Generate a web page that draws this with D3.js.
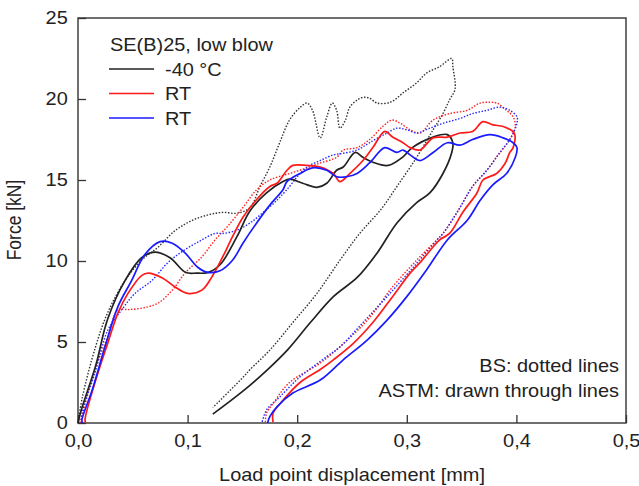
<!DOCTYPE html>
<html>
<head>
    <meta charset="utf-8">
    <title>SE(B)25 low blow - force vs displacement</title>
    <script src="https://d3js.org/d3.v7.min.js"></script>
    <style>
        body { margin: 0; background: #fff; }
        svg text { font-family: "Liberation Sans", Arial, sans-serif; fill: #222; }
    </style>
</head>
<body>
    <div id="chart"></div>

    <script type="text/javascript">
        // [displacement mm, force kN]
        var astmCold = [[0,0],[0.003,0.8],[0.016,3.5],[0.027,6.4],[0.043,8.8],[0.058,10.2],[0.070,10.55],[0.084,10.2],[0.098,9.3],
            [0.108,9.25],[0.119,9.3],[0.130,9.8],[0.145,11.5],[0.157,13.1],[0.172,14.2],[0.187,14.9],[0.193,15.05],[0.205,14.8],
            [0.218,14.55],[0.227,14.8],[0.236,15.6],[0.242,15.8],[0.253,16.7],[0.260,16.4],[0.269,16.1],[0.283,15.9],[0.296,16.4],
            [0.305,17.0],[0.324,17.65],[0.337,17.8],[0.342,17.3],[0.341,16.7],[0.333,15.4],[0.321,14.2],[0.309,13.6],[0.291,12.35],
            [0.273,10.5],[0.255,9.0],[0.233,7.8],[0.212,6.2],[0.191,4.5],[0.173,3.3],[0.151,2.0],[0.123,0.55]];

        var bsCold = [[0,0],[0.004,1.6],[0.016,4.7],[0.027,6.8],[0.043,8.8],[0.058,10.05],[0.073,10.85],[0.089,11.9],[0.104,12.5],
            [0.119,12.85],[0.132,13.0],[0.145,12.95],[0.157,13.3],[0.166,14.6],[0.175,15.8],[0.184,17.3],[0.193,18.7],[0.203,19.5],
            [0.209,19.75],[0.214,19.3],[0.221,17.6],[0.227,18.9],[0.232,19.75],[0.236,19.3],[0.239,18.2],[0.244,18.7],[0.248,19.5],
            [0.255,19.95],[0.260,20.1],[0.266,20.05],[0.273,19.75],[0.285,19.8],[0.297,20.4],[0.309,21.0],[0.318,21.6],[0.330,22.0],
            [0.341,22.5],[0.342,22.0],[0.344,20.6],[0.339,19.95],[0.333,19.1],[0.324,18.1],[0.309,16.4],[0.291,14.6],[0.276,13.15],
            [0.257,11.7],[0.239,10.05],[0.218,8.0],[0.196,6.2],[0.175,4.5],[0.157,3.3],[0.151,2.85],[0.123,0.95]];

        var astmRT1 = [[0.007,0],[0.0064,0.2],[0.0155,2.5],[0.027,4.9],[0.0365,6.8],[0.0456,8.0],[0.058,9.1],[0.064,9.25],[0.077,8.95],
            [0.0885,8.4],[0.100,8.0],[0.113,8.2],[0.122,9.0],[0.132,10.25],[0.141,11.5],[0.1505,12.7],[0.163,13.8],[0.175,14.6],
            [0.1815,14.8],[0.1907,15.6],[0.196,15.9],[0.209,15.9],[0.221,15.8],[0.233,15.4],[0.239,14.9],[0.248,15.4],[0.260,16.2],
            [0.269,17.0],[0.280,18.0],[0.287,17.65],[0.2965,17.3],[0.303,17.0],[0.312,16.85],[0.324,17.6],[0.337,17.65],[0.3485,17.9],
            [0.360,18.0],[0.3695,18.6],[0.3785,18.4],[0.388,18.3],[0.398,17.9],[0.397,17.0],[0.394,16.7],[0.3895,16.0],[0.382,15.4],
            [0.3695,15.0],[0.364,14.2],[0.351,13.0],[0.339,11.7],[0.330,11.3],[0.312,9.9],[0.303,9.25],[0.287,7.8],[0.269,6.2],
            [0.251,4.9],[0.233,3.9],[0.221,3.3],[0.2026,2.5],[0.187,1.4],[0.178,0.6],[0.178,0.05]];

        var bsRT1 = [[0.002,0],[0.0155,3.3],[0.027,5.3],[0.0365,7.0],[0.0456,7.0],[0.059,7.1],[0.073,7.4],[0.086,8.2],[0.0976,9.25],
            [0.113,10.25],[0.125,11.3],[0.136,12.1],[0.1505,13.3],[0.163,14.4],[0.175,15.0],[0.193,15.4],[0.209,15.75],[0.221,16.05],
            [0.236,16.4],[0.242,16.85],[0.2546,17.0],[0.266,17.5],[0.278,18.3],[0.2865,18.7],[0.294,18.5],[0.303,18.1],[0.312,17.9],
            [0.324,18.7],[0.339,19.1],[0.355,19.3],[0.367,19.75],[0.376,19.8],[0.382,19.75],[0.391,19.3],[0.397,18.9],[0.399,18.3],
            [0.394,17.5],[0.385,16.7],[0.373,15.6],[0.360,14.6],[0.346,13.0],[0.333,11.7],[0.3275,11.3],[0.309,10.05],[0.287,8.4],
            [0.266,6.5],[0.2455,5.1],[0.221,3.7],[0.193,2.5],[0.178,1.2],[0.172,0.6],[0.171,0.05]];

        var astmRT2 = [[0.004,0],[0.0036,0.2],[0.0128,2.0],[0.0246,4.7],[0.0365,7.2],[0.049,8.8],[0.061,10.4],[0.075,11.2],[0.086,11.1],
            [0.0976,10.5],[0.1095,9.6],[0.1186,9.3],[0.1296,9.4],[0.141,10.05],[0.1505,11.1],[0.163,12.35],[0.175,13.45],[0.187,14.4],
            [0.1907,14.9],[0.2026,15.4],[0.214,15.75],[0.227,15.6],[0.236,15.2],[0.245,15.2],[0.2546,15.4],[0.266,16.05],[0.280,17.0],
            [0.291,16.7],[0.2965,16.85],[0.303,16.55],[0.312,16.2],[0.324,16.7],[0.337,17.3],[0.3485,17.15],[0.360,17.5],[0.376,17.8],
            [0.388,17.6],[0.397,17.3],[0.4005,17.0],[0.399,16.4],[0.391,15.4],[0.3785,14.7],[0.367,13.75],[0.355,12.5],[0.337,11.3],
            [0.318,9.45],[0.300,7.8],[0.282,6.35],[0.2636,5.1],[0.242,3.9],[0.221,2.65],[0.196,1.85],[0.1815,1.0],[0.175,0.4],[0.173,0]];

        var bsRT2 = [[0.003,0],[0.0036,0.6],[0.0155,3.1],[0.027,5.7],[0.040,7.0],[0.052,8.0],[0.0675,8.8],[0.082,9.9],[0.0976,10.7],
            [0.113,11.3],[0.125,11.7],[0.132,11.7],[0.145,11.9],[0.157,12.35],[0.169,13.0],[0.1815,13.75],[0.193,14.6],[0.200,15.2],
            [0.209,15.8],[0.221,16.2],[0.233,16.55],[0.242,16.65],[0.2546,16.85],[0.266,17.3],[0.282,17.9],[0.291,18.2],[0.300,18.1],
            [0.309,17.9],[0.321,18.2],[0.333,18.5],[0.3485,18.8],[0.360,19.1],[0.373,19.3],[0.385,19.5],[0.394,19.3],[0.4005,18.9],
            [0.4005,18.5],[0.394,17.5],[0.385,16.7],[0.373,15.6],[0.360,14.6],[0.3485,13.3],[0.333,11.7],[0.3275,11.3],[0.3057,9.6],
            [0.282,7.8],[0.260,6.2],[0.239,4.7],[0.227,4.1],[0.2026,2.85],[0.184,1.6],[0.172,0.8],[0.168,0.05]];

        var xTicks = [0, 0.1, 0.2, 0.3, 0.4, 0.5];
        var yTicks = [0, 5, 10, 15, 20, 25];
        var legendTitle = "SE(B)25, low blow";
        var legendLabels = ["-40 °C", "RT", "RT"];
        var noteLines = ["BS: dotted lines", "ASTM: drawn through lines"];

        var W = 639, H = 486;
        var stretch = "scale(1.14,1)";   // the figure text is a bit wide

        var svg = d3.select("#chart").append("svg")
            .attr("width", W)
            .attr("height", H);

        var x = d3.scaleLinear().domain([0, 0.5]).range([78, 626]);
        var y = d3.scaleLinear().domain([0, 25]).range([423, 18]);

        var comma = d3.formatLocale({decimal: ",", thousands: ".", grouping: [3], currency: ["", ""]});

        // axes with inward ticks
        var gx = svg.append("g")
            .attr("transform", "translate(0,423)")
            .call(d3.axisBottom(x).tickValues(xTicks).tickSize(-8).tickPadding(12).tickFormat(comma.format(".1f")));
        var gy = svg.append("g")
            .attr("transform", "translate(78,0)")
            .call(d3.axisLeft(y).tickValues(yTicks).tickSize(-8).tickPadding(9).tickFormat(d3.format("d")));

        [gx, gy].forEach(function(g) {
            g.select(".domain").remove();
            g.selectAll(".tick line").attr("stroke", "#333").attr("stroke-width", 1.3);
            g.selectAll(".tick text")
                .attr("fill", "#222")
                .style("font-size", "17.5px")
                .style("font-family", "'Liberation Sans', Arial, sans-serif")
                .attr("transform", stretch);
        });

        // frame
        svg.append("rect")
            .attr("x", x(0)).attr("y", y(25))
            .attr("width", x(0.5) - x(0)).attr("height", y(0) - y(25))
            .attr("fill", "none")
            .attr("stroke", "#333")
            .attr("stroke-width", 1.4);

        var line = d3.line()
            .x(function(d) { return x(d[0]); })
            .y(function(d) { return y(d[1]); })
            .curve(d3.curveCatmullRom.alpha(0.5));

        var curves = [
            {data: bsCold,  color: "#333",    dotted: true},
            {data: bsRT1,   color: "#ff2020", dotted: true},
            {data: bsRT2,   color: "#2a2aff", dotted: true},
            {data: astmCold, color: "#222",   dotted: false},
            {data: astmRT1, color: "#ff1a1a", dotted: false},
            {data: astmRT2, color: "#1a1aff", dotted: false}
        ];

        svg.append("g").selectAll("path")
            .data(curves)
            .enter()
            .append("path")
            .attr("d", function(d) { return line(d.data); })
            .attr("fill", "none")
            .attr("stroke", function(d) { return d.color; })
            .attr("stroke-width", function(d) { return d.dotted ? 1.4 : 1.7; })
            .attr("stroke-dasharray", function(d) { return d.dotted ? "1.5,1.6" : null; })
            .attr("stroke-linejoin", "round");

        // legend
        var legend = svg.append("g");
        legend.append("text")
            .attr("transform", "translate(110,51) " + stretch)
            .style("font-size", "17.5px")
            .text(legendTitle);

        var legendColors = ["#222", "#ff1a1a", "#1a1aff"];
        legendLabels.forEach(function(lbl, i) {
            var ly = 69 + i * 24.5;
            legend.append("line")
                .attr("x1", 109).attr("x2", 154)
                .attr("y1", ly).attr("y2", ly)
                .attr("stroke", legendColors[i])
                .attr("stroke-width", 1.7);
            legend.append("text")
                .attr("transform", "translate(165," + (ly + 6.5) + ") " + stretch)
                .style("font-size", "17.5px")
                .text(lbl);
        });

        // note in lower right
        noteLines.forEach(function(t, i) {
            svg.append("text")
                .attr("transform", "translate(619," + (372 + i * 25) + ") " + stretch)
                .attr("text-anchor", "end")
                .style("font-size", "17.5px")
                .text(t);
        });

        // axis titles
        svg.append("text")
            .attr("transform", "translate(352,481) " + stretch)
            .attr("text-anchor", "middle")
            .style("font-size", "17.5px")
            .text("Load point displacement [mm]");

        svg.append("text")
            .attr("transform", "translate(21,220) " + stretch + " rotate(-90)")
            .attr("text-anchor", "middle")
            .style("font-size", "17.5px")
            .text("Force [kN]");
    </script>
</body>
</html>
